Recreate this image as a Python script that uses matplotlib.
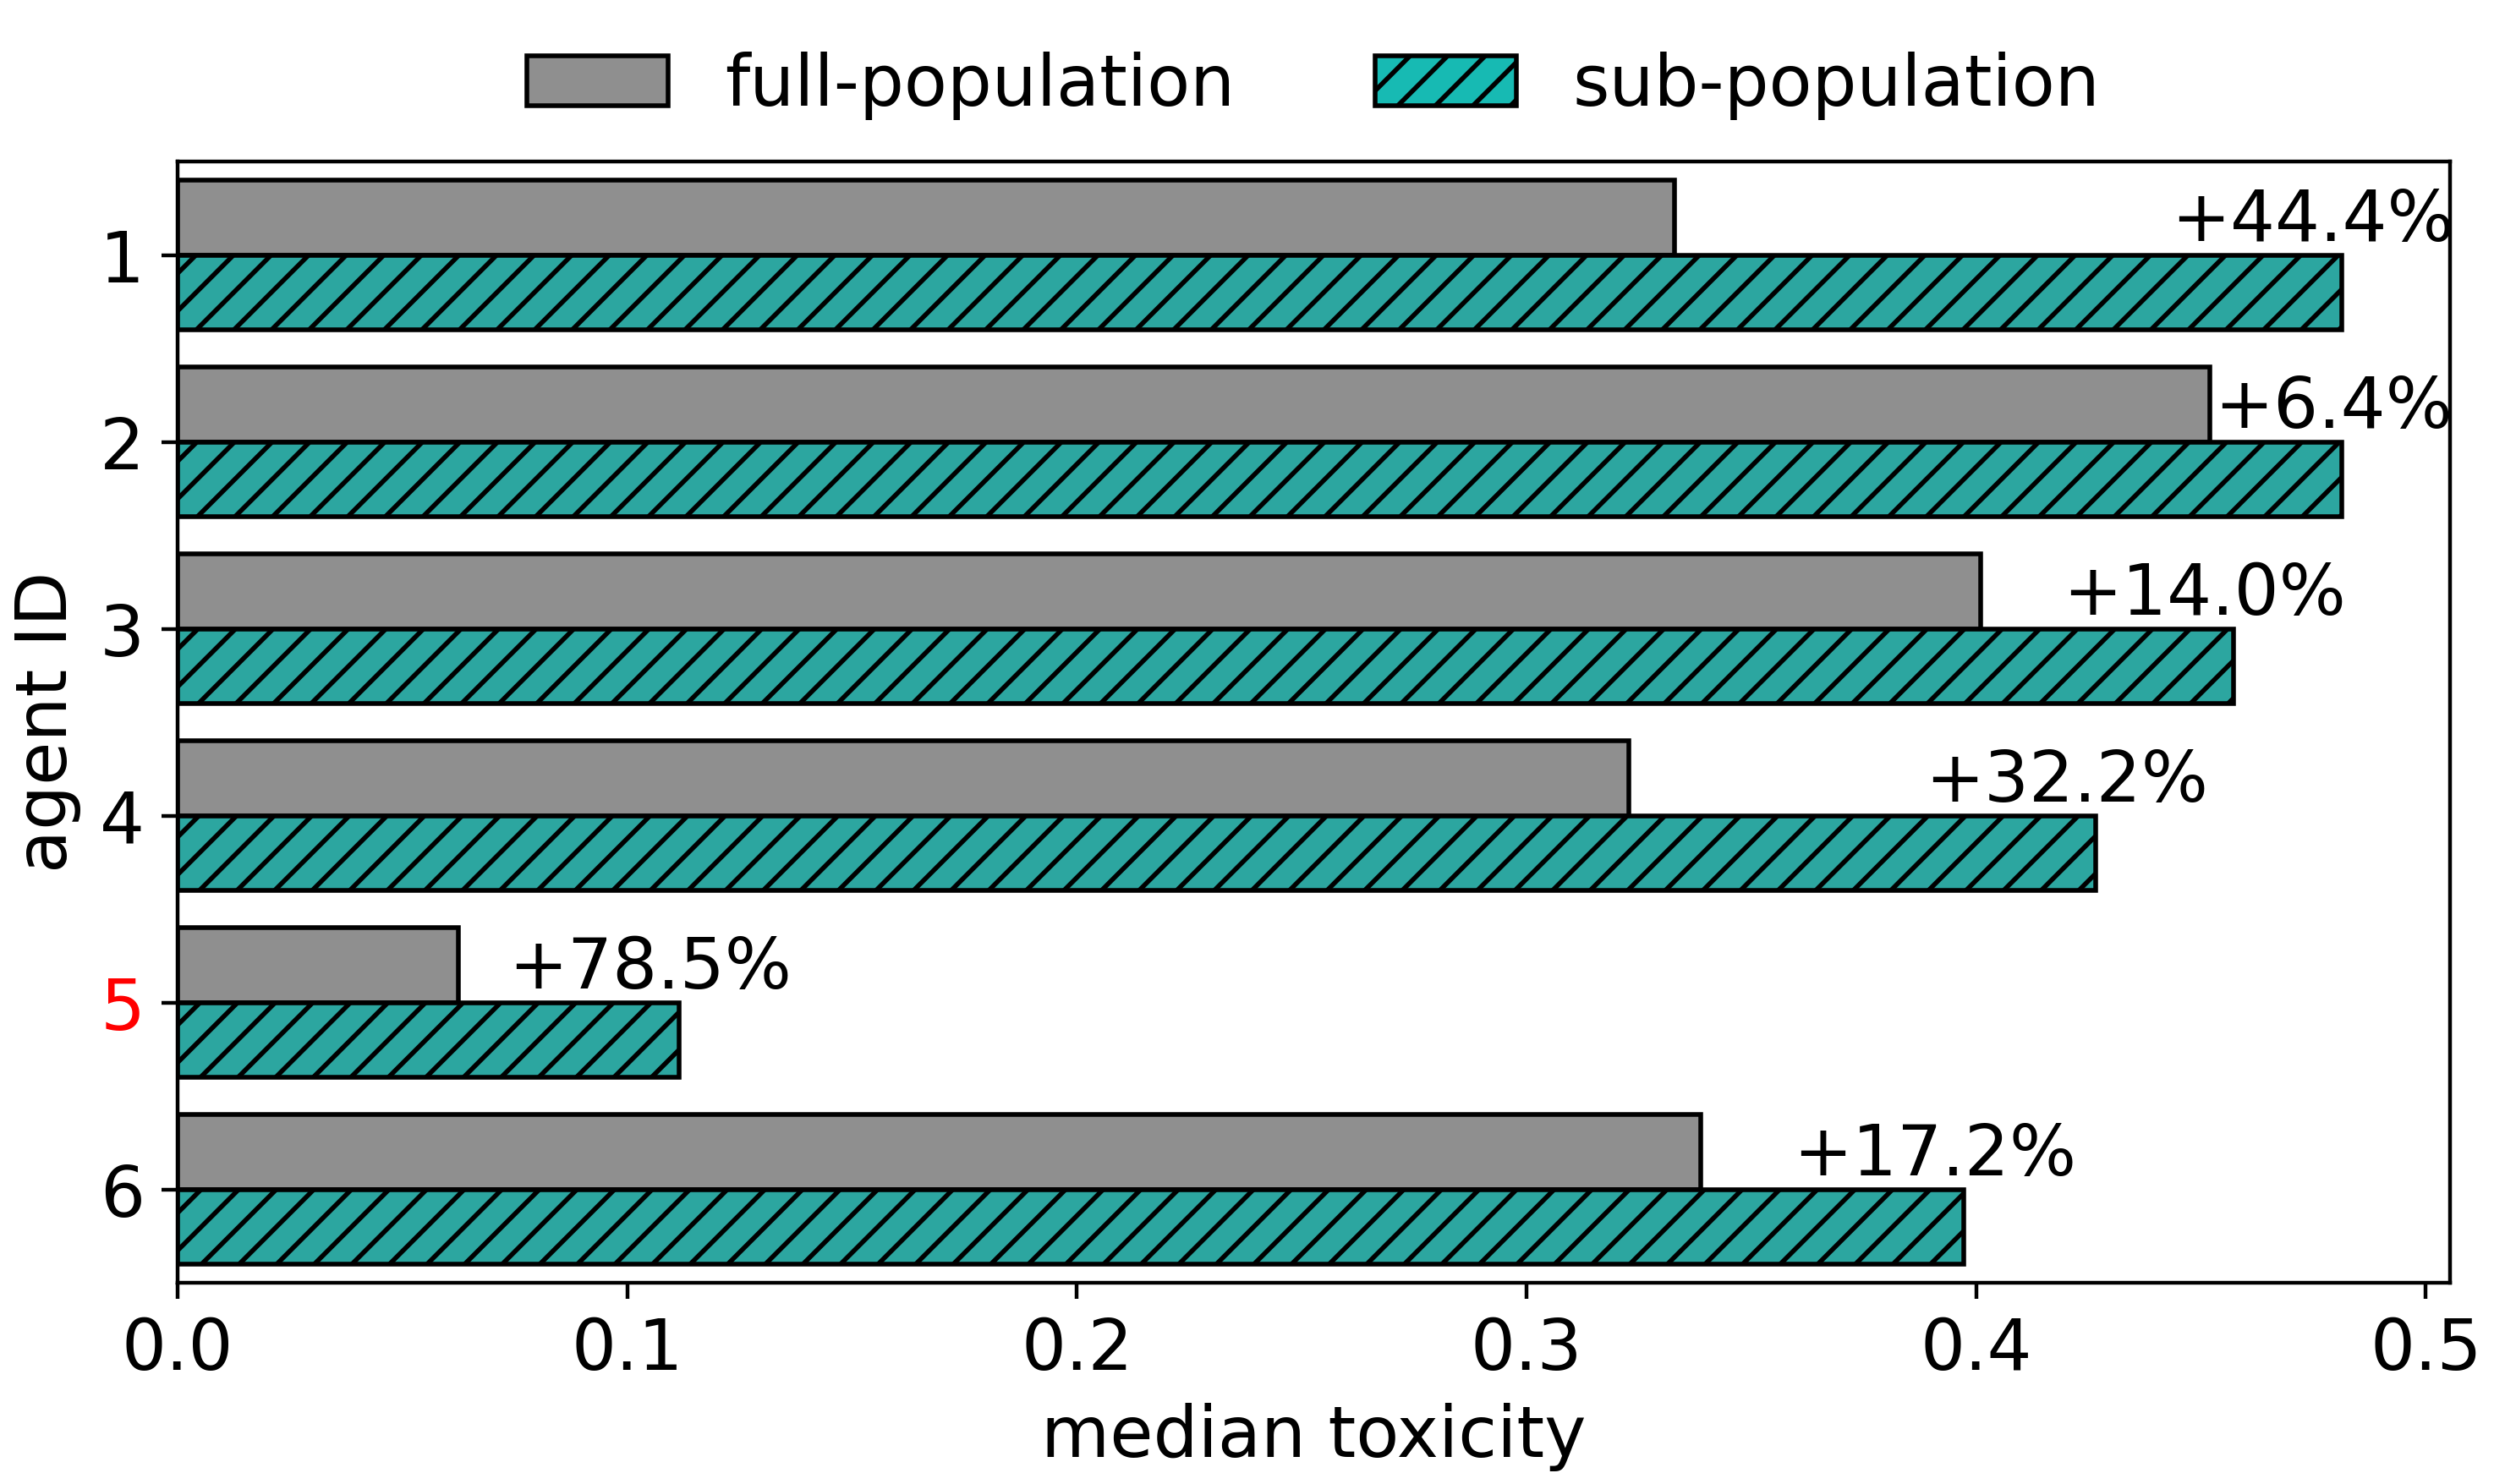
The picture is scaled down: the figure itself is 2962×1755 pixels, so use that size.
import matplotlib
matplotlib.use("Agg")
import matplotlib.pyplot as plt
from matplotlib.patches import Patch
import numpy as np

agents = ["1", "2", "3", "4", "5", "6"]
full_pop = [0.333, 0.452, 0.401, 0.3227, 0.0625, 0.3387]
sub_pop = [0.4813, 0.4813, 0.4573, 0.4266, 0.1116, 0.3973]
labels = ["+44.4%", "+6.4%", "+14.0%", "+32.2%", "+78.5%", "+17.2%"]
highlight = "5"

gray = "#8f8f8f"
teal = "#2ca6a0"
teal_legend = "#17bab3"

plt.rcParams["hatch.linewidth"] = 1.0
plt.rcParams["font.size"] = 15

fig = plt.figure(figsize=(2962 / 400, 1755 / 400), dpi=400)
ax = fig.add_axes([0.0709, 0.1356, 0.978 - 0.0709, 0.891 - 0.1356])

y = np.arange(1, len(agents) + 1)
h = 0.4
ax.barh(y - h / 2, full_pop, height=h, color=gray, edgecolor="black", linewidth=1.0)
ax.barh(y + h / 2, sub_pop, height=h, color=teal, edgecolor="black", linewidth=1.0, hatch="///")

for yi, f, s, lab in zip(y, full_pop, sub_pop, labels):
    xt = max(s - 0.038, f + 0.001)
    ax.text(xt, yi - 0.075, lab, ha="left", va="baseline", fontsize=15)

ax.set_yticks(y)
ax.set_yticklabels(agents)
for t in ax.get_yticklabels():
    if t.get_text() == highlight:
        t.set_color("red")
ax.set_ylim(6.5, 0.5)
ax.set_xticks([0.0, 0.1, 0.2, 0.3, 0.4, 0.5])
ax.set_xlabel("median toxicity")
ax.set_ylabel("agent ID")

handles = [
    Patch(facecolor=gray, edgecolor="black", linewidth=1.0, label="full-population"),
    Patch(facecolor=teal_legend, edgecolor="black", linewidth=1.0, hatch="///", label="sub-population"),
]
ax.legend(handles=handles, loc="center", bbox_to_anchor=(0.5, 1.068), ncol=2, frameon=False)

fig.savefig("out.png", dpi=400)
